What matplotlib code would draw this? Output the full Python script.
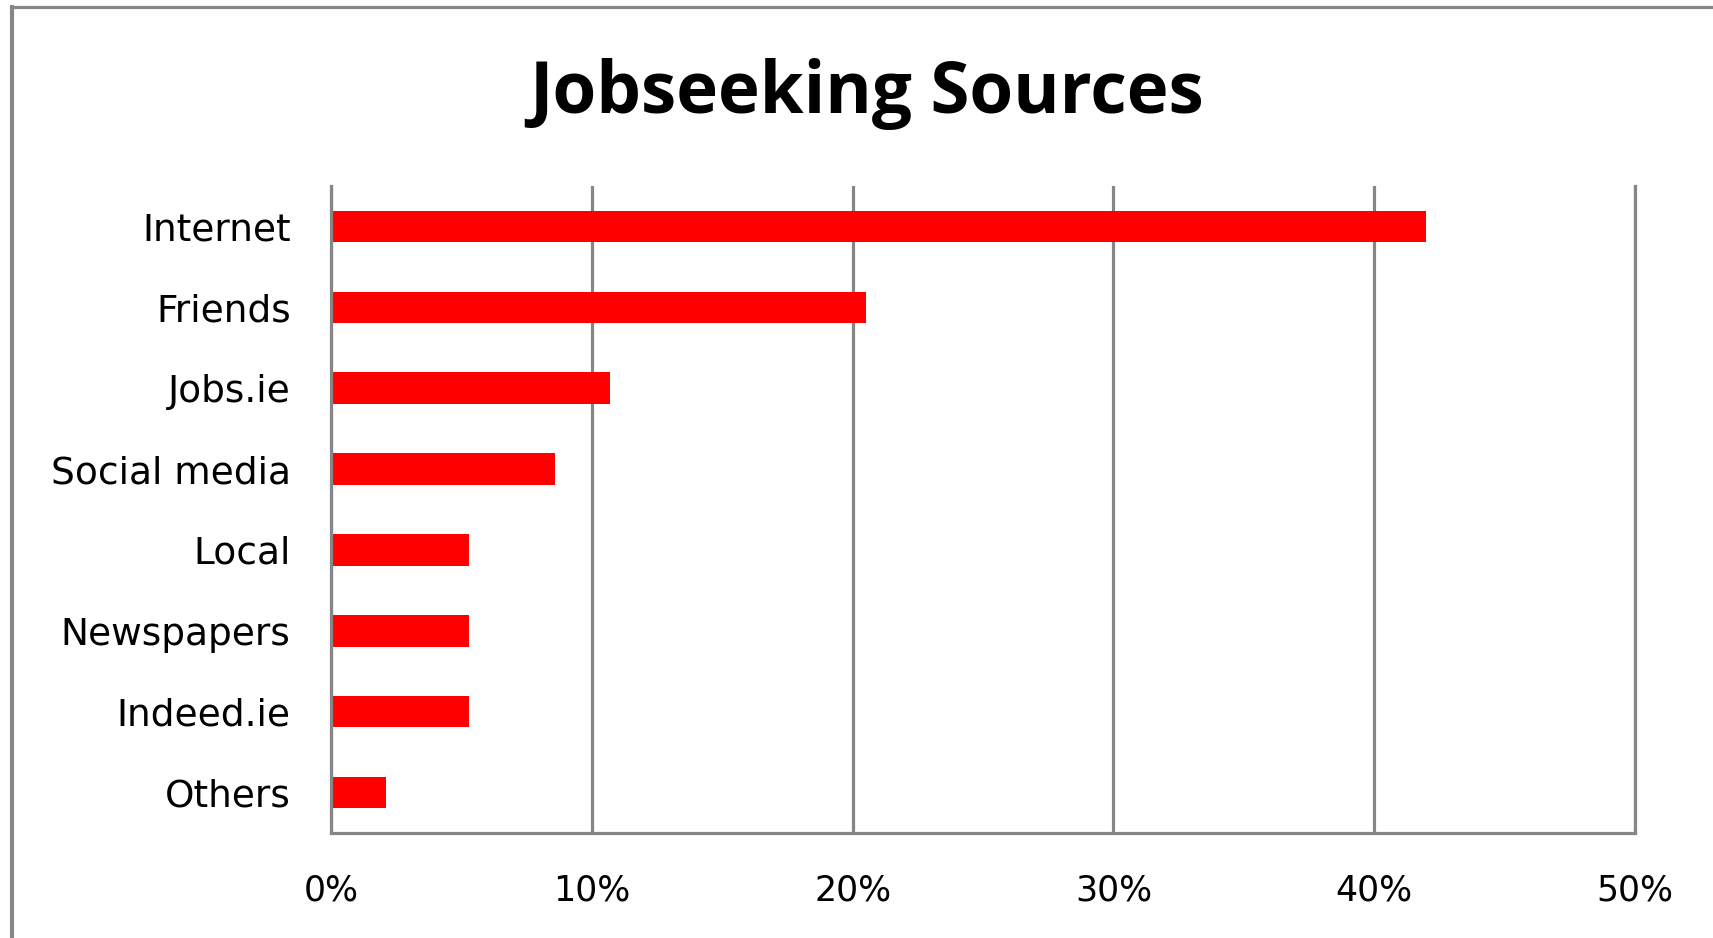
import matplotlib.pyplot as plt
from matplotlib.lines import Line2D

sources = ['Internet', 'Friends', 'Jobs.ie', 'Social media', 'Local',
           'Newspapers', 'Indeed.ie', 'Others']
shares = [42.0, 20.5, 10.7, 8.6, 5.3, 5.3, 5.3, 2.1]
ticks = [0, 10, 20, 30, 40, 50]
tick_labels = ['0%', '10%', '20%', '30%', '40%', '50%']

grey = '#868686'

fig = plt.figure(figsize=(17.13, 9.38), dpi=100)
ax = fig.add_axes([0.1932, 0.1119, 0.9545 - 0.1932, 0.8017 - 0.1119])

ax.barh(range(len(sources)), shares, height=0.39, color='#ff0000', zorder=2)

ax.set_xlim(0, 50)
ax.set_ylim(len(sources) - 0.5, -0.5)
ax.set_xticks(ticks)
ax.set_xticklabels(tick_labels, fontsize=25)
ax.set_yticks(range(len(sources)))
ax.set_yticklabels(sources, fontsize=27)
ax.tick_params(axis='x', length=0, pad=29)
ax.tick_params(axis='y', length=0, pad=29)

ax.grid(axis='x', color=grey, linewidth=2.3, zorder=1)
ax.set_axisbelow(True)
ax.spines['top'].set_visible(False)
for side in ['left', 'bottom', 'right']:
    ax.spines[side].set_color(grey)
    ax.spines[side].set_linewidth(2.3)

fig.text(0.506, 1 - 113 / 938, 'Jobseeking Sources', ha='center', va='baseline',
         fontsize=51, fontweight='bold', family='Open Sans')

# chart frame (only left and top edges are inside the crop)
fig.add_artist(Line2D([12 / 1713, 12 / 1713], [0, 1 - 7.5 / 938],
                      transform=fig.transFigure, color=grey, linewidth=3))
fig.add_artist(Line2D([12 / 1713, 1], [1 - 7.5 / 938, 1 - 7.5 / 938],
                      transform=fig.transFigure, color=grey, linewidth=2.3))

plt.savefig('out.png', dpi=100)
